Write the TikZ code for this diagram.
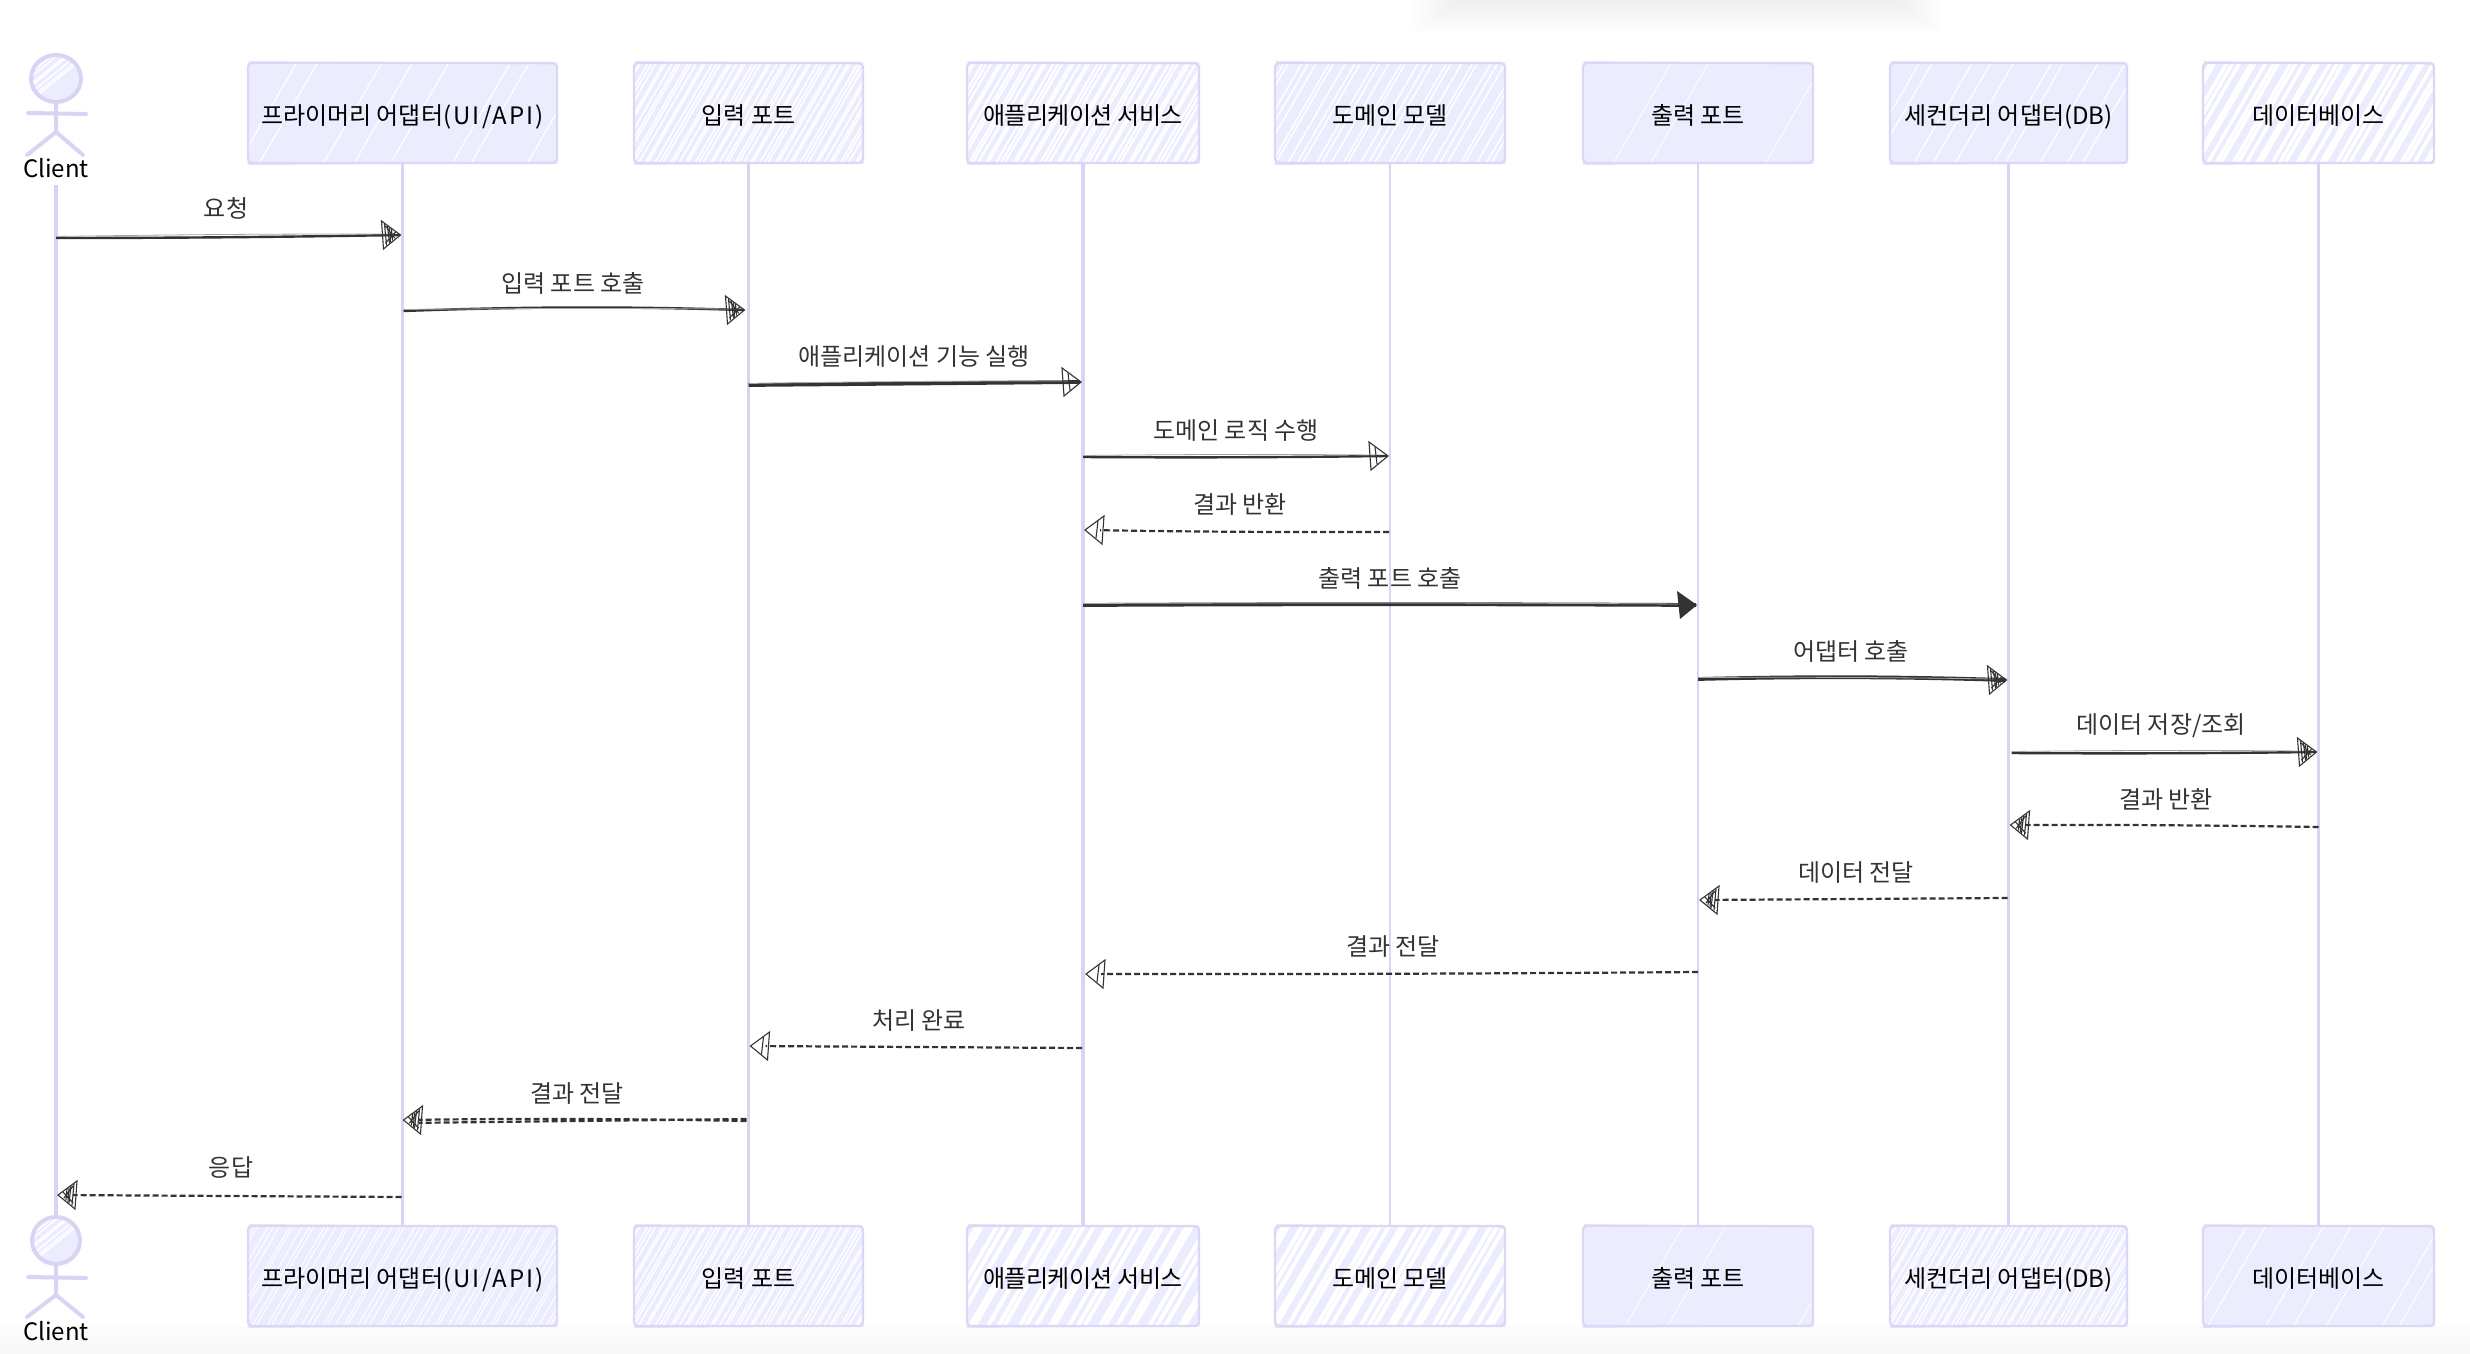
\documentclass[tikz,border=0pt]{standalone}
\usepackage{fontspec}
\setmainfont{Noto Sans CJK KR}
\usetikzlibrary{calc,shapes.geometric}
\definecolor{boxfill}{HTML}{ECECFF}
\definecolor{boxedge}{HTML}{DDD7F7}
\definecolor{lifecol}{HTML}{D9D4F4}
\definecolor{ink}{HTML}{333333}
\tikzset{
  x=.5pt,y=-.5pt,
  sbox/.style={draw=boxedge,line width=1.2pt,rounded corners=2pt,inner sep=0pt,font=\fontsize{12}{14}\selectfont,text=black},
  life/.style={draw=lifecol,line width=1.7pt},
  lifethin/.style={draw=lifecol,line width=1.3pt},
  actorline/.style={draw=lifecol,line width=2pt,line cap=round},
  msglabel/.style={font=\fontsize{12}{14}\selectfont,text=ink,inner sep=0pt,yshift=-.7pt},
  actorlabel/.style={font=\fontsize{12}{14}\selectfont,text=black,inner sep=0pt},
  solidmsg/.style={draw=ink,line width=1.2pt},
  thickmsg/.style={draw=ink,line width=1.9pt},
  dashmsg/.style={draw=ink,line width=1.1pt,dash pattern=on 3pt off 1.5pt,shorten >=7pt},
  ghost/.style={draw=gray!70,line width=.4pt},
  headedge/.style={draw=ink,line width=.55pt,line cap=round}
}
\newcommand\hachlines[6]{%
  \pgfmathtruncatemacro\hachn{(#3-#1+60)/#5}%
  \foreach \k in {0,...,\hachn}{%
    \pgfmathsetmacro\hachx{#1-60+\k*#5+0.3*#5*sin(\k*137)}%
    \draw[white,line width=#6*.5pt] (\hachx,#4) -- (\hachx+58,#2);
  }%
}
\newcommand\skbox[8]{%
  \fill[boxfill,rounded corners=2pt] (#2,#3) rectangle (#4,#5);
  \begin{scope}
    \clip (#2,#3) rectangle (#4,#5);
    \hachlines{#2}{#3}{#4}{#5}{#7}{#8}
  \end{scope}
  \draw[boxedge,line width=.7pt] (#2+.8,#3-1) -- (#4-.5,#3+.6) (#2-.5,#5+1) -- (#4+.5,#5-.4);
  \node[sbox,minimum width={(#4-#2)*.5pt},minimum height={(#5-#3)*.5pt}] (#1) at ({(#2+#4)/2},{(#3+#5)/2}) {\raisebox{-5.6pt}[0pt][0pt]{#6}};
}
\newcommand\skactor[9]{%
  \fill[boxfill] (#2,{#3+#5/2}) ellipse ({#4} and {#5/2});
  \begin{scope}
    \clip (#2,{#3+#5/2}) ellipse ({#4} and {#5/2});
    \hachlines{#2-#4}{#3}{#2+#4}{#3+#5}{6}{1.4}
  \end{scope}
  \node[ellipse,draw=lifecol,line width=2pt,inner sep=0pt,minimum width={2*#4*.5pt},minimum height={#5*.5pt}] (head#1) at (#2,{#3+#5/2}) {};
  \draw[actorline] (head#1.south) -- (#2,#7) (#2-28,#6) -- (#2+30,#6+1)
     (#2,#7) -- (#2-29,#8) (#2,#7) -- (#2+27,#8);
  \node[actorlabel] (label#1) at (#2,#9) {Client};
}
\newcommand\skhead[3]{%
  \begin{scope}[shift={(#1)},xscale=#2]
    \ifnum#3=2
      \fill[ink] (1,0) -- (-19,-14) -- (-16,14) -- cycle;
    \else
      \draw[headedge] (1,0) -- (-18,-14) -- (-16,14) -- cycle;
      \draw[headedge] (-12,-9) -- (-10,8);
      \ifnum#3=1
        \draw[headedge] (-15,-11) -- (-13,10) (-8,-6) -- (-7,5) (-4,-3) -- (-14,8) (-14,-9) -- (-5,3) (-10,-7) -- (-9,7);
      \fi
    \fi
  \end{scope}
}
\newcommand\skmsg[9]{%
  \coordinate (#1a) at ($(#2 |- 0,#4)+(#3,0)$);
  \coordinate (#1b) at ($(#5 |- 0,#7)+(#6,0)$);
  \draw[#8] (#1a) .. controls ($(#1a)!.35!(#1b)+(0,#9)$) and ($(#1a)!.65!(#1b)+(0,#9)$) .. (#1b);
}
\newcommand\sksolidghost[2]{%
  \draw[ghost] ($(#1a)+(0,-1.5)$) .. controls ($(#1a)!.4!(#1b)+(0,-2.5)$) and ($(#1a)!.7!(#1b)+(0,-2)$) .. ($(#1b)+(-#2*12,-1)$);
}
\begin{document}
\begin{tikzpicture}
\useasboundingbox (0,0) rectangle (2470,1354);
\fill[white] (0,0) rectangle (2470,1354);
\shade[top color=black!1,bottom color=black!3] (0,1326) rectangle (2470,1354);
\foreach \i in {0,...,15}{
  \fill[black,opacity=.005] ({1412+\i*3},-20) rectangle ({1942-\i*3},{33-\i*2});
}

% top row
\skbox{primT}{248}{63}{557}{163}{프라이머리 어댑터{\addfontfeature{LetterSpace=9}(UI/API)}}{42}{1.2}
\skbox{inT}{634}{63}{863}{163}{입력 포트}{5}{1.6}
\skbox{appT}{967}{63}{1199}{163}{{\addfontfeature{LetterSpace=-2.5}애플리케이션 서비스}}{5.5}{2}
\skbox{domT}{1275}{63}{1505}{163}{도메인 모델}{9}{1.5}
\skbox{outT}{1583}{63}{1813}{163}{출력 포트}{75}{.8}
\skbox{secT}{1890}{63}{2127}{163}{세컨더리 어댑터(DB)}{26}{1.2}
\skbox{dbT}{2203}{63}{2434}{163}{데이터베이스}{8}{3.5}
% bottom row
\skbox{primB}{248}{1226}{557}{1326}{프라이머리 어댑터{\addfontfeature{LetterSpace=9}(UI/API)}}{7}{1}
\skbox{inB}{634}{1226}{863}{1326}{입력 포트}{5}{1.4}
\skbox{appB}{967}{1226}{1199}{1326}{{\addfontfeature{LetterSpace=-2.5}애플리케이션 서비스}}{10}{4}
\skbox{domB}{1275}{1226}{1505}{1326}{도메인 모델}{9}{4}
\skbox{outB}{1583}{1226}{1813}{1326}{출력 포트}{85}{.8}
\skbox{secB}{1890}{1226}{2127}{1326}{세컨더리 어댑터(DB)}{5}{1.4}
\skbox{dbB}{2203}{1226}{2434}{1326}{데이터베이스}{38}{1}
% actors
\skactor{T}{56}{55}{25}{47}{113}{132}{155}{168}
\skactor{B}{56}{1217}{24}{47}{1277}{1295}{1317}{1331}

% lifelines
\draw[life] (labelT.south |- 0,185) -- (headB.north);
\draw[life] (primT.south) -- (primB.north);
\draw[life] (inT.south) -- (inB.north);
\draw[life] (appT.south) -- (appB.north);
\draw[lifethin] (domT.south) -- (domB.north);
\draw[lifethin] (outT.south) -- (outB.north);
\draw[lifethin] (secT.south) -- (secB.north);
\draw[lifethin] (dbT.south) -- (dbB.north);

% messages
\skmsg{m1}{labelT}{0}{238}{primT}{-3}{235}{solidmsg}{1}
\sksolidghost{m1}{1}\skhead{m1b}{1}{1}
\node[msglabel] (m1l) at (226,207) {요청};

\skmsg{m2}{primT}{1}{311}{inT}{-5}{310}{solidmsg}{-4}
\sksolidghost{m2}{1}\skhead{m2b}{1}{1}
\node[msglabel] (m2l) at (573,282) {입력 포트 호출};

\skmsg{m3}{inT}{0}{385}{appT}{-3}{382}{thickmsg}{0}
\sksolidghost{m3}{1}\skhead{m3b}{1}{0}
\node[msglabel] (m3l) at (914,355) {애플리케이션 기능 실행};

\skmsg{m4}{appT}{0}{457}{domT}{-3}{456}{solidmsg}{1}
\sksolidghost{m4}{1}\skhead{m4b}{1}{0}
\node[msglabel] (m4l) at (1236,429) {도메인 로직 수행};

\skmsg{m5}{domT}{-1}{532}{appT}{3}{530}{dashmsg}{1}
\skhead{m5b}{-1}{0}
\node[msglabel] (m5l) at (1240,503) {결과 반환};

\skmsg{m6}{appT}{0}{605}{outT}{-2}{605}{thickmsg}{-1}
\sksolidghost{m6}{1}\skhead{m6b}{1}{2}
\node[msglabel] (m6l) at (1390,577) {출력 포트 호출};

\skmsg{m7}{outT}{0}{679}{secT}{-3}{680}{thickmsg}{-3}
\sksolidghost{m7}{1}\skhead{m7b}{1}{1}
\node[msglabel] (m7l) at (1851,650) {어댑터 호출};

\skmsg{m8}{secT}{3}{753}{dbT}{-3}{752}{solidmsg}{1}
\sksolidghost{m8}{1}\skhead{m8b}{1}{1}
\node[msglabel] (m8l) at (2161,724) {데이터 저장/조회};

\skmsg{m9}{dbT}{0}{827}{secT}{3}{825}{dashmsg}{-1}
\skhead{m9b}{-1}{1}
\node[msglabel] (m9l) at (2166,798) {결과 반환};

\skmsg{m10}{secT}{-1}{898}{outT}{3}{900}{dashmsg}{0}
\skhead{m10b}{-1}{1}
\node[msglabel] (m10l) at (1856,871) {데이터 전달};

\skmsg{m11}{outT}{0}{972}{appT}{4}{974}{dashmsg}{1}
\skhead{m11b}{-1}{0}
\node[msglabel] (m11l) at (1393,945) {결과 전달};

\skmsg{m12}{appT}{-1}{1048}{inT}{3}{1046}{dashmsg}{0}
\skhead{m12b}{-1}{0}
\node[msglabel] (m12l) at (919,1019) {처리 완료};

\skmsg{m13}{inT}{-2}{1121}{primT}{2}{1120}{dashmsg}{-2}
\draw[dashmsg] ($(m13a)+(0,-2)$) -- ($(m13b)+(0,3)$);
\skhead{m13b}{-1}{1}
\node[msglabel] (m13l) at (577,1092) {결과 전달};

\skmsg{m14}{primT}{-1}{1197}{labelT}{3}{1195}{dashmsg}{0}
\skhead{m14b}{-1}{1}
\node[msglabel] (m14l) at (231,1166) {응답};
\end{tikzpicture}
\end{document}
